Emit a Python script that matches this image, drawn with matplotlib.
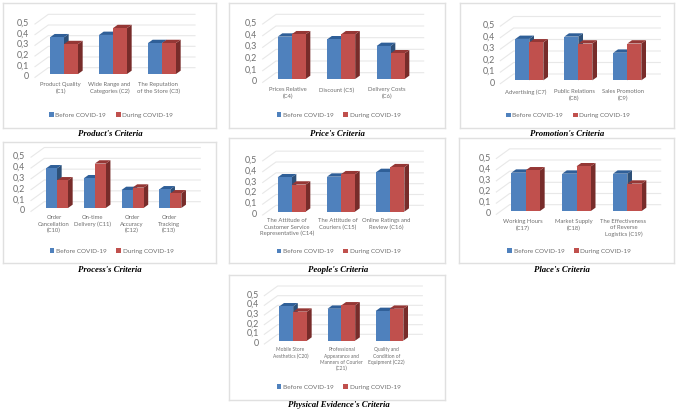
"""Seven 3D-look clustered bar panels, before vs during COVID-19."""
import matplotlib
matplotlib.use("Agg")
import matplotlib.pyplot as plt
from matplotlib.patches import Polygon

W, H = 677, 412
SERIES = ["Before COVID-19", "During COVID-19"]
TICKS = [0, 0.1, 0.2, 0.3, 0.4, 0.5]
TICK_LABELS = ["0", "0,1", "0,2", "0,3", "0,4", "0,5"]

product_labels = ["Product Quality\n(C1)", "Wide Range and\nCategories (C2)", "The Reputation\nof the Store (C3)"]
product_before = [0.344, 0.366, 0.29]
product_during = [0.28, 0.43, 0.29]

price_labels = ["Prices Relative\n(C4)", "Discount (C5)", "Delivery Costs\n(C6)"]
price_before = [0.363, 0.34, 0.283]
price_during = [0.383, 0.383, 0.22]

promotion_labels = ["Advertising (C7)", "Public Relations\n(C8)", "Sales Promotion\n(C9)"]
promotion_before = [0.36, 0.38, 0.24]
promotion_during = [0.33, 0.32, 0.32]

process_labels = ["Order\nCancellation\n(C10)", "On-time\nDelivery (C11)", "Order\nAccuracy\n(C12)", "Order\nTracking\n(C13)"]
process_before = [0.366, 0.274, 0.166, 0.172]
process_during = [0.255, 0.41, 0.188, 0.135]

people_labels = ["The Attitude of\nCustomer Service\nRepresentative (C14)", "The Attitude of\nCouriers (C15)", "Online Ratings and\nReview (C16)"]
people_before = [0.317, 0.323, 0.366]
people_during = [0.25, 0.345, 0.41]

place_labels = ["Working Hours\n(C17)", "Market Supply\n(C18)", "The Effectiveness\nof Reverse\nLogistics (C19)"]
place_before = [0.343, 0.334, 0.334]
place_during = [0.364, 0.40, 0.245]

evidence_labels = ["Mobile Store\nAesthetics (C20)", "Professional\nAppearance and\nManners of Courier\n(C21)", "Quality and\nCondition of\nEquipment (C22)"]
evidence_before = [0.355, 0.33, 0.307]
evidence_during = [0.30, 0.365, 0.33]

BLUE, BLUE_TOP, BLUE_SIDE = "#4F81BD", "#2F5F98", "#2D5078"
RED, RED_TOP, RED_SIDE = "#C0504D", "#953735", "#772C2A"
GRID = "#E8E8E8"
FRAME = "#E0E0E0"
TEXT = "#6E6E6E"


def panel(fig, title, labels, before, during, off, frame, first, pitch, width, base, scale,
          label_xs, label_y, legend_xy, title_xy, label_size=4.2):
    """Geometry arguments are in 3x zoom pixels relative to `off`."""
    ox, oy = off

    def fx(x):
        return (ox + x / 3) / W

    def fy(y):
        return 1 - (oy + y / 3) / H

    fl, ft, fr, fb = frame
    ax = fig.add_axes([fx(fl), fy(fb), fx(fr) - fx(fl), fy(ft) - fy(fb)])
    center = first + width
    ax.set_xlim((fl - center) / pitch, (fr - center) / pitch)
    ax.set_ylim((base - fb) / scale, (base - ft) / scale)
    ax.set_xticks([])
    ax.set_yticks([])
    for s in ax.spines.values():
        s.set_color(FRAME)
        s.set_linewidth(1.0)

    bw = width / pitch
    dx = 14 / pitch
    dy = 10 / scale
    xs = list(range(len(before)))

    # back wall grid
    wall_l = (first - 5 - center) / pitch
    wall_f = (first - 45 - center) / pitch
    wall_r = xs[-1] + (width + 57) / pitch
    up = 19 / scale
    down = 10 / scale
    for t in TICKS:
        ax.plot([wall_f, wall_l, wall_r], [t - down, t + up, t + up], color=GRID, lw=0.8, zorder=1)

    for t, lab in zip(TICKS, TICK_LABELS):
        ax.text(wall_f - 17 / pitch, t - 8 / scale, lab, ha="right", va="center",
                fontsize=6.4, color=TEXT)

    b1 = ax.bar([x - bw / 2 for x in xs], before, bw, color=BLUE, zorder=3, label=SERIES[0])
    b2 = ax.bar([x + bw / 2 for x in xs], during, bw, color=RED, zorder=5, label=SERIES[1])

    for bars, top_c, side_c, z in ((b1, BLUE_TOP, BLUE_SIDE, 2), (b2, RED_TOP, RED_SIDE, 4)):
        for r in bars:
            x0, x1, v = r.get_x(), r.get_x() + r.get_width(), r.get_height()
            ax.add_patch(Polygon([(x1, 0), (x1 + dx, dy), (x1 + dx, v + dy), (x1, v)],
                                 facecolor=side_c, edgecolor="none", zorder=z))
            ax.add_patch(Polygon([(x0, v), (x0 + dx, v + dy), (x1 + dx, v + dy), (x1, v)],
                                 facecolor=top_c, edgecolor="none", zorder=z))

    for lab, lx in zip(labels, label_xs):
        fig.text(fx(lx), fy(label_y), lab, ha="center", va="top", fontsize=label_size,
                 color=TEXT, linespacing=1.3)

    lx, ly = legend_xy
    ax.legend(handles=[b1, b2], loc="center", ncols=2, frameon=False,
              bbox_to_anchor=(fx(lx), fy(ly)), bbox_transform=fig.transFigure,
              fontsize=4.6, labelcolor=TEXT, handlelength=0.75, handleheight=0.75,
              handletextpad=0.25, columnspacing=1.5, borderpad=0, borderaxespad=0)

    fig.text(fx(title_xy[0]), fy(title_xy[1]), title, ha="center", va="center", fontsize=6.3,
             family="Liberation Serif", weight="bold", style="italic", color="black")


plt.rcParams["font.family"] = ["Lato", "DejaVu Sans"]
fig = plt.figure(figsize=(W / 100, H / 100), dpi=100, facecolor="white")

panel(fig, "Product's Criteria", product_labels, product_before, product_during, (0, 0),
      (8, 10, 648, 385), 150, 147, 42, 222, 320, [182, 328, 475], 246, (333, 345), (330, 401))
panel(fig, "Price's Criteria", price_labels, price_before, price_during, (225, 0),
      (13, 10, 660, 385), 158, 148.5, 42, 237, 350, [190, 336, 486], 262, (341, 345), (337, 401))
panel(fig, "Promotion's Criteria", promotion_labels, promotion_before, promotion_during, (450, 0),
      (30, 10, 672, 385), 196, 147, 42, 241, 345, [227, 372, 520], 267, (354, 346), (352, 401))
panel(fig, "Process's Criteria", process_labels, process_before, process_during, (0, 135),
      (8, 20, 648, 385), 138, 113.3, 33, 219, 325, [162, 277, 396, 507], 241, (335, 348), (330, 404))
panel(fig, "People's Criteria", people_labels, people_before, people_during, (225, 135),
      (13, 10, 660, 385), 158, 148, 42, 230, 325, [185, 338, 485], 250, (341, 349), (338, 404))
panel(fig, "Place's Criteria", place_labels, place_before, place_during, (450, 135),
      (27, 10, 672, 385), 184, 152.5, 43, 228, 335, [218, 370, 520], 252, (358, 348), (335, 404))
panel(fig, "Physical Evidence's Criteria", evidence_labels, evidence_before, evidence_during, (225, 272),
      (13, 8, 660, 383), 163, 144.5, 41.5, 206, 290, [196, 350, 484], 226, (341, 345), (343, 400),
      label_size=3.5)

fig.savefig("out.png", dpi=100, facecolor="white")
